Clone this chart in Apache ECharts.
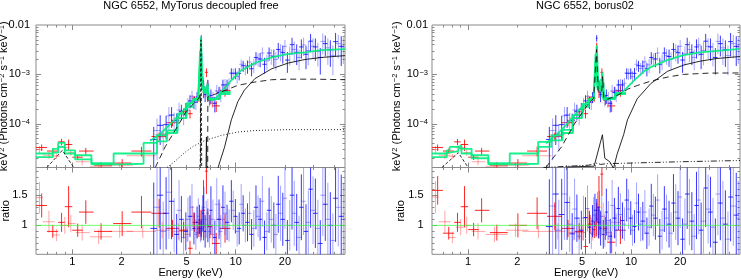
<!DOCTYPE html>
<html><head><meta charset="utf-8">
<script src="https://cdn.jsdelivr.net/npm/echarts@6/dist/echarts.min.js"></script>
<style>html,body{margin:0;padding:0;background:#fff}#c{width:741px;height:280px}</style>
</head><body><div id="c"></div>
<script>
// ================= DATA =================
const titles = ['NGC 6552, MyTorus decoupled free', 'NGC 6552, borus02'];
const E_MIN = 0.6, E_MAX = 46.6;
const F_MIN = 1.3e-5, F_MAX = 0.01;
const R_MIN = 0.52, R_MAX = 1.96;
const xTickLabels = [1, 2, 5, 10, 20];
const xMajorTicks = [1, 10];
const xMinorTicks = [0.7, 0.8, 0.9, 2, 3, 4, 5, 6, 7, 8, 9, 20, 30, 40];
const yTopLabelValues = [1e-4, 1e-3, 1e-2];
const yTopLabelText = ['10{s|−4}', '10{s|−3}', '0.01'];
const yTopMajorTicks = [1e-4, 1e-3];
const yTopMinorTicks = [2e-5,3e-5,4e-5,5e-5,6e-5,7e-5,8e-5,9e-5,2e-4,3e-4,4e-4,5e-4,6e-4,7e-4,8e-4,9e-4,2e-3,3e-3,4e-3,5e-3,6e-3,7e-3,8e-3,9e-3];
const ratioLabelValues = [1, 1.5];
const ratioMajorTicks = [1, 1.5];
const ratioMinorTicks = [0.6,0.7,0.8,0.9,1.1,1.2,1.3,1.4,1.6,1.7,1.8,1.9];

// soft-band data set A (dark red)
const redA_E    = [0.65,0.76,0.86,0.95,1.08,1.21,1.50,2.02,2.65,3.40,4.10,4.80,5.25,5.60,5.95,6.15,6.35,6.62,6.95,7.60,8.60];
const redA_lo   = [0.60,0.70,0.82,0.90,1.00,1.10,1.36,1.78,2.30,3.05,3.75,4.50,5.10,5.45,5.80,6.08,6.22,6.48,6.75,7.15,8.00];
const redA_hi   = [0.70,0.82,0.90,1.00,1.16,1.35,1.75,2.30,3.05,3.75,4.50,5.10,5.45,5.80,6.05,6.22,6.48,6.75,7.15,8.00,9.30];
const redA_flux = [3.3e-5,2.8e-5,4.3e-5,3.8e-5,2.1e-5,2.8e-5,1.45e-5,1.6e-5,2.8e-5,5.5e-5,1.05e-4,1.75e-4,1.6e-4,3.15e-4,3.3e-4,3.5e-3,5.5e-4,1.1e-3,3.0e-4,2.3e-4,4.7e-4];
const redA_err  = [0.15,0.12,0.15,0.26,0.12,0.16,0.15,0.2,0.22,0.2,0.15,0.15,0.2,0.15,0.15,0.25,0.4,0.2,0.2,0.25,0.25];
const redA_ratioMyT = [1.33,0.90,1.05,1.31,0.92,1.22,0.90,1.03,1.22,1.20,0.95,0.92,0.62,1.05,0.95,1.00,1.25,1.90,0.98,0.70,0.95];
const redA_ratioBor = [1.58,0.87,1.05,1.31,0.93,1.25,0.88,1.00,1.20,1.15,0.95,0.90,0.65,1.02,0.93,1.10,1.30,1.85,0.95,0.72,0.92];
// soft-band data set B (light red)
const redB_E    = [0.63,0.72,0.80,0.90,0.98,1.15,1.45,1.95,2.70,3.55,4.45,5.05,5.45,5.82,6.10,6.40,6.75,7.20,8.00];
const redB_lo   = [0.60,0.66,0.76,0.84,0.94,1.05,1.28,1.70,2.15,3.20,4.15,4.85,5.30,5.65,6.00,6.22,6.58,6.92,7.50];
const redB_hi   = [0.66,0.78,0.84,0.96,1.05,1.28,1.75,2.35,3.25,3.95,4.80,5.25,5.62,5.98,6.20,6.58,6.92,7.50,8.60];
const redB_flux = [3.0e-5,2.3e-5,2.2e-5,3.3e-5,2.6e-5,1.7e-5,1.35e-5,1.45e-5,2.25e-5,6.0e-5,1.3e-4,1.9e-4,3.3e-4,2.95e-4,2.1e-3,4.3e-4,6.6e-4,2.6e-4,4.5e-4];
const redB_err  = [0.18,0.17,0.12,0.14,0.14,0.15,0.15,0.12,0.12,0.15,0.15,0.15,0.15,0.12,0.2,0.2,0.2,0.2,0.25];
const redB_ratioMyT = [1.46,1.06,0.84,1.00,1.03,0.88,0.81,0.90,0.90,0.92,0.90,0.85,1.15,0.88,1.05,1.00,1.20,0.85,1.10];
const redB_ratioBor = [1.47,1.06,0.80,0.97,1.00,0.90,0.85,0.92,0.90,0.90,0.88,0.88,1.12,0.85,1.00,1.05,1.15,0.88,1.05];

// hard-band data set A (dark blue)
const blueA_E  = [3.15,3.45,3.75,4.05,4.35,4.65,4.95,5.25,5.55,5.8,6.0,6.15,6.3,6.5,6.75,7.05,7.45,7.9,8.35,8.85,9.4,9.95,10.5,11.1,11.8,12.5,13.3,14.1,15.0,16.0,17.1,18.2,19.4,20.7,22.1,23.6,25.2,26.9,28.7,30.7,32.9,35.3,37.9,40.8,44.2];
const blueA_hw = [0.15,0.15,0.15,0.15,0.15,0.15,0.15,0.15,0.13,0.1,0.08,0.07,0.08,0.1,0.12,0.15,0.2,0.22,0.22,0.25,0.27,0.27,0.3,0.3,0.35,0.35,0.4,0.4,0.45,0.5,0.55,0.55,0.6,0.65,0.7,0.75,0.8,0.85,0.9,1.0,1.1,1.2,1.3,1.4,1.6];
const blueA_flux = [4.8e-5,9.3e-5,9.6e-5,1.5e-4,1.15e-4,1.8e-4,1.95e-4,2.9e-4,2.75e-4,3.5e-4,8.8e-4,5.4e-3,7.2e-4,3.9e-4,6.0e-4,3.75e-4,2.6e-4,4.3e-4,6.1e-4,6.1e-4,1.06e-3,1.06e-3,1.05e-3,1.5e-3,1.47e-3,1.3e-3,2.2e-3,2.05e-3,1.6e-3,2.7e-3,2.3e-3,3.2e-3,2.75e-3,1.95e-3,4.0e-3,2.8e-3,3.6e-3,2.55e-3,4.7e-3,3.6e-3,2.2e-3,4.2e-3,3.15e-3,4.6e-3,3.7e-3];
const blueA_err = [0.8,0.6,0.5,0.45,0.4,0.35,0.35,0.3,0.28,0.25,0.22,0.15,0.25,0.3,0.28,0.32,0.35,0.3,0.28,0.28,0.25,0.25,0.28,0.25,0.3,0.3,0.28,0.32,0.35,0.3,0.38,0.35,0.4,0.45,0.38,0.45,0.42,0.5,0.4,0.48,0.55,0.45,0.55,0.5,0.6];
const blueA_ratioMyT = [0.95,1.5,1.2,1.4,0.85,1.1,0.9,1.15,0.95,1.05,1.1,0.95,1.2,0.9,1.0,1.25,0.8,1.1,1.3,1.05,1.4,1.15,0.95,1.2,1.05,0.85,1.3,1.1,0.8,1.25,1.0,1.35,1.1,0.75,1.5,1.05,1.3,0.9,1.6,1.2,0.7,1.35,1.0,1.45,1.15];
const blueA_ratioBor = [0.98,1.52,1.18,1.38,0.86,1.12,0.92,1.13,0.97,1.07,1.25,1.25,1.05,0.95,0.85,1.22,0.82,1.12,1.28,1.08,1.42,1.12,0.98,1.22,1.07,0.87,1.32,1.12,0.82,1.27,1.02,1.37,1.12,0.77,1.52,1.07,1.33,0.92,1.62,1.22,0.72,1.37,1.02,1.47,1.17];
// hard-band data set B (light blue)
const blueB_E  = [3.3,3.6,3.9,4.2,4.5,4.8,5.1,5.4,5.7,5.9,6.08,6.22,6.4,6.6,6.9,7.25,7.65,8.1,8.6,9.1,9.65,10.2,10.8,11.45,12.15,12.9,13.7,14.55,15.5,16.5,17.6,18.8,20.0,21.4,22.8,24.4,26.0,27.8,29.7,31.8,34.1,36.6,39.3,42.4,45.5];
const blueB_hw = [0.15,0.15,0.15,0.15,0.15,0.15,0.15,0.15,0.12,0.1,0.07,0.07,0.1,0.1,0.15,0.18,0.2,0.22,0.25,0.25,0.28,0.28,0.3,0.32,0.35,0.38,0.4,0.42,0.45,0.5,0.55,0.6,0.6,0.7,0.7,0.8,0.8,0.9,0.95,1.05,1.15,1.25,1.35,1.5,1.6];
const blueB_flux = [7.3e-5,6.2e-5,1.45e-4,1.15e-4,1.9e-4,1.5e-4,2.5e-4,3.6e-4,2.7e-4,4.0e-4,2.25e-3,2.2e-3,5.6e-4,4.8e-4,3.15e-4,3.4e-4,4.65e-4,3.9e-4,6.2e-4,6.6e-4,1.04e-3,9.0e-4,1.6e-3,1.32e-3,1.78e-3,1.56e-3,2.05e-3,2.7e-3,1.87e-3,2.4e-3,2.0e-3,2.95e-3,3.7e-3,2.6e-3,3.2e-3,2.2e-3,3.95e-3,3.05e-3,3.7e-3,2.9e-3,4.65e-3,3.45e-3,2.4e-3,4.2e-3,3.6e-3];
const blueB_err = [0.75,0.55,0.5,0.45,0.4,0.38,0.33,0.3,0.3,0.26,0.2,0.2,0.26,0.28,0.3,0.3,0.32,0.3,0.3,0.27,0.26,0.28,0.25,0.28,0.3,0.32,0.3,0.3,0.35,0.35,0.4,0.38,0.35,0.42,0.45,0.45,0.4,0.5,0.45,0.5,0.45,0.55,0.6,0.5,0.55];
const blueB_ratioMyT = [1.3,0.9,1.55,1.0,1.25,0.8,1.1,1.3,0.85,1.15,0.9,1.1,1.3,1.1,0.9,1.1,1.35,0.9,1.2,1.0,1.25,0.9,1.35,1.0,1.2,0.95,1.15,1.4,0.9,1.1,0.85,1.2,1.45,1.0,1.2,0.8,1.4,1.05,1.25,0.95,1.5,1.1,0.75,1.3,1.1];
const blueB_ratioBor = [1.32,0.92,1.52,1.02,1.27,0.82,1.12,1.28,0.87,1.17,1.0,1.3,1.25,1.15,0.92,1.08,1.33,0.92,1.18,1.02,1.27,0.92,1.37,1.02,1.22,0.97,1.17,1.42,0.92,1.12,0.87,1.22,1.47,1.02,1.22,0.82,1.42,1.07,1.27,0.97,1.52,1.12,0.77,1.32,1.12];

// model curves: MyTorus panel
const greenStepA_MyT = [[0.6,2.5e-5],[0.76,3.1e-5],[0.82,4.1e-5],[0.9,2.9e-5],[1.04,2.3e-5],[1.31,1.6e-5],[1.79,2.5e-5],[2.73,4.1e-5],[3.3,5.8e-5],[3.8,7.3e-5],[4.4,1.6e-4],[5.0,2.6e-4],[5.5,3.2e-4],[5.9,3.6e-4],[6.05,3.0e-3],[6.22,5.5e-4],[6.5,4.5e-4],[6.75,3.2e-4],[7.2,3.3e-4],[8.0,4.4e-4],[9.3,4.4e-4]];
const greenStepB_MyT = [[0.6,2.1e-5],[0.76,2.6e-5],[0.82,3.4e-5],[0.9,2.5e-5],[1.04,1.9e-5],[1.31,1.5e-5],[2.0,1.55e-5],[2.73,2.5e-5],[3.3,4.4e-5],[3.8,6.5e-5],[4.4,1.3e-4],[5.0,2.2e-4],[5.5,3.0e-4],[5.9,3.4e-4],[6.05,2.0e-3],[6.22,5.0e-4],[6.5,4.2e-4],[6.75,3.1e-4],[7.2,3.2e-4],[8.0,4.0e-4],[9.3,4.0e-4]];
const greenHard_MyT = [[3.0,4.5e-5],[3.5,6.5e-5],[4.0,1.0e-4],[4.5,1.5e-4],[5.0,2.2e-4],[5.5,2.9e-4],[5.9,3.5e-4],[6.02,8e-4],[6.13,5.7e-3],[6.24,1.0e-3],[6.35,4.2e-4],[6.6,4.6e-4],[6.72,6.5e-4],[6.85,3.5e-4],[7.1,3.0e-4],[7.5,3.2e-4],[8.15,4.4e-4],[9.4,7.6e-4],[10.8,1.2e-3],[13.1,1.7e-3],[16.6,2.2e-3],[21,2.6e-3],[26.5,2.8e-3],[33.5,3.1e-3],[46.6,3.25e-3]];
const soft_MyT = [[0.7,1.3e-5],[0.87,2.9e-5],[1.02,1.3e-5]];
const scatLow_MyT = [[3.22,1.3e-5],[3.7,3.4e-5],[4.38,8.6e-5],[5.0,1.8e-4],[5.55,2.6e-4],[5.95,3.3e-4],[6.08,4.0e-4],[6.1,1e-7]];
const scatHigh_MyT = [[6.72,1e-7],[6.75,3.5e-4],[7.2,3.8e-4],[8.15,4.4e-4],[10.3,6.0e-4],[13.1,7.0e-4],[16.6,7.8e-4],[21,8.0e-4],[30,8.0e-4],[46.6,7.8e-4]];
const feLine_MyT = [[6.02,1e-7],[6.13,5.0e-3],[6.24,1e-7]];
const trans_MyT = [[6.45,1e-7],[6.62,5.4e-5],[6.78,1e-7],[7.6,1e-7],[7.8,1.3e-5],[8.0,1.7e-5],[8.55,3.4e-5],[9.4,1.2e-4],[10.3,2.8e-4],[11.3,4.8e-4],[13.1,8.2e-4],[16.6,1.3e-3],[21,1.7e-3],[26.5,2.0e-3],[33.5,2.2e-3],[46.6,2.4e-3]];
const scatPL_MyT = [[3.8,1.3e-5],[4.3,1.8e-5],[5.0,2.8e-5],[5.5,3.5e-5],[6.5,4.6e-5],[8.15,5.8e-5],[10.3,6.8e-5],[13.1,7.3e-5],[21,7.6e-5],[46.6,7.6e-5]];

// model curves: borus02 panel
const greenStepA_Bor = [[0.6,2.5e-5],[0.74,2.9e-5],[0.77,3.4e-5],[0.87,3.6e-5],[0.91,3.1e-5],[1.05,2.3e-5],[1.33,1.6e-5],[1.8,2.5e-5],[2.69,4.3e-5],[3.24,5.8e-5],[3.8,7.5e-5],[4.4,1.5e-4],[5.0,2.5e-4],[5.5,3.2e-4],[5.9,3.6e-4],[6.05,2.6e-3],[6.22,5.5e-4],[6.55,8e-4],[6.75,3.3e-4],[7.2,3.3e-4],[8.0,4.2e-4],[9.3,4.2e-4]];
const greenStepB_Bor = [[0.6,2.1e-5],[0.74,2.6e-5],[0.77,2.8e-5],[0.87,3.2e-5],[0.91,2.5e-5],[1.05,2.0e-5],[1.33,1.5e-5],[2.0,1.55e-5],[2.69,3.4e-5],[3.24,4.6e-5],[3.8,6.5e-5],[4.4,1.3e-4],[5.0,2.2e-4],[5.5,3.0e-4],[5.9,3.4e-4],[6.05,1.8e-3],[6.22,5.0e-4],[6.55,6.5e-4],[6.75,3.1e-4],[7.2,3.2e-4],[8.0,4.0e-4],[9.3,4.0e-4]];
const greenHard_Bor = [[3.0,4.0e-5],[3.5,6.0e-5],[4.0,9.5e-5],[4.5,1.5e-4],[5.0,2.2e-4],[5.5,2.9e-4],[5.9,3.5e-4],[6.03,1.0e-3],[6.16,3.9e-3],[6.3,6.0e-4],[6.5,4.5e-4],[6.67,1.1e-3],[6.85,3.3e-4],[7.2,3.2e-4],[7.85,3.4e-4],[9.0,4.6e-4],[10.4,7.5e-4],[12.0,1.15e-3],[13.2,1.4e-3],[16.7,1.95e-3],[21.0,2.45e-3],[26.5,2.8e-3],[33.7,3.0e-3],[46.6,3.3e-3]];
const soft_Bor = [[0.69,1.3e-5],[0.87,2.6e-5],[1.0,1.3e-5]];
const refl_Bor = [[3.0,1.3e-5],[3.74,3.4e-5],[4.5,1.0e-4],[5.4,2.4e-4],[5.9,3.3e-4],[6.0,3.6e-4],[6.14,3.2e-3],[6.28,4.5e-4],[6.6,4.3e-4],[6.68,9e-4],[6.8,3.3e-4],[7.1,3.1e-4],[8.0,3.6e-4],[9.0,4.4e-4],[9.5,5.0e-4],[11,6.0e-4],[13.2,7.3e-4],[16.7,8.8e-4],[21,1.0e-3],[30,1.06e-3],[46.6,1.07e-3]];
const trans_Bor = [[4.0,1.33e-5],[5.93,1.38e-5],[6.67,6.0e-5],[6.9,2.0e-5],[7.4,1.7e-5],[7.8,1.25e-5],[8.2,2.4e-5],[9.0,6.0e-5],[9.5,1.2e-4],[10.9,3.2e-4],[13.2,6.5e-4],[16.7,1.15e-3],[21.1,1.55e-3],[26.5,1.85e-3],[33.7,2.1e-3],[46.6,2.3e-3]];
const scatPL_Bor = [[2.9,1.3e-5],[3.6,1.35e-5],[4.5,1.4e-5],[5.5,1.45e-5],[6.2,1.6e-5],[6.5,1.5e-5],[7.0,1.55e-5],[10,1.6e-5],[20,1.7e-5],[46.6,1.8e-5]];
const unityLine = [[E_MIN,1],[E_MAX,1]];

// ================= CHART =================
const FONT = 'Liberation Sans, Arial, Helvetica, sans-serif';
const GRAY = '#8a8a8a';
const supRich = {s: {fontSize: 7.5, verticalAlign: 'top', fontFamily: FONT, color: '#000', padding: [0,0,0,0.5]}};
const grids = [
  {left: 36, top: 25, width: 309, height: 142.5},
  {left: 36, top: 167.5, width: 309, height: 86.8},
  {left: 432, top: 25, width: 308, height: 142.5},
  {left: 432, top: 167.5, width: 308, height: 86.8}
];
const yNameGap = [26.7, 24.5, 30, 25.5];
const yLabMargin = [6, 8.5, 4, 8.5];

const xAxes = [], yAxes = [];
grids.forEach((g, gi) => {
  const ratio = gi % 2 === 1;
  ['bottom', 'top'].forEach(pos => [true, false].forEach(major => {
    const lab = ratio && pos === 'bottom' && major;
    xAxes.push({
      gridIndex: gi, type: 'log', logBase: 10, min: E_MIN, max: E_MAX, position: pos,
      axisLine: {show: false}, splitLine: {show: false},
      axisTick: {show: true, inside: true, length: major ? 5 : 2.5,
        customValues: major ? xMajorTicks : xMinorTicks, lineStyle: {color: GRAY, width: 1}},
      axisLabel: {show: lab, customValues: xTickLabels, margin: 2, color: '#000',
        fontSize: 11, fontFamily: FONT, formatter: v => String(v)},
      name: lab ? 'Energy (keV)' : '', nameLocation: 'middle', nameGap: 13.5, nameMoveOverlap: false,
      nameTextStyle: {color: '#000', fontSize: 11, fontFamily: FONT}
    });
  }));
  ['left', 'right'].forEach(pos => [true, false].forEach(major => {
    const lab = pos === 'left' && major;
    const base = {
      gridIndex: gi, position: pos, axisLine: {show: false}, splitLine: {show: false},
      nameLocation: 'middle', nameGap: yNameGap[gi], nameMoveOverlap: false,
      nameTextStyle: {color: '#000', fontSize: 11, fontFamily: FONT, rich: supRich}
    };
    if (ratio) {
      yAxes.push(Object.assign(base, {
        type: 'value', min: R_MIN, max: R_MAX,
        axisTick: {show: true, inside: true, length: major ? 5 : 2.5,
          customValues: major ? ratioMajorTicks : ratioMinorTicks, lineStyle: {color: GRAY}},
        axisLabel: {show: lab, customValues: ratioLabelValues, margin: yLabMargin[gi], color: '#000',
          fontSize: 11, fontFamily: FONT, formatter: v => String(v)},
        name: lab ? 'ratio' : ''
      }));
    } else {
      yAxes.push(Object.assign(base, {
        type: 'log', logBase: 10, min: F_MIN, max: F_MAX,
        axisTick: {show: true, inside: true, length: major ? 5 : 2.5,
          customValues: major ? yTopMajorTicks : yTopMinorTicks, lineStyle: {color: GRAY}},
        axisLabel: {show: lab, customValues: yTopLabelValues, margin: yLabMargin[gi], color: '#000',
          fontSize: 11, fontFamily: FONT, rich: supRich,
          formatter: v => {
            let best = 0, d = 1e9;
            yTopLabelValues.forEach((t, i) => { const dd = Math.abs(Math.log10(t) - Math.log10(v)); if (dd < d) { d = dd; best = i; } });
            return yTopLabelText[best];
          }},
        name: lab ? 'keV{s|2} (Photons cm{s|−2} s{s|−1} keV{s|−1})' : ''
      }));
    }
  }));
});

function crosses(E, lo, hi, val, err) {
  return E.map((e, i) => [e, lo[i], hi[i], val[i], val[i] * (1 - err[i]), val[i] * (1 + err[i])]);
}
function crossSeries(gi, data, color, z) {
  return {
    type: 'custom', xAxisIndex: gi * 4, yAxisIndex: gi * 4, clip: true, silent: true, z: z,
    encode: {x: [0, 1, 2], y: [3, 4, 5]}, data: data, animation: false,
    renderItem: (params, api) => {
      const a = api.coord([api.value(1), api.value(3)]);
      const b = api.coord([api.value(2), api.value(3)]);
      const c = api.coord([api.value(0), api.value(4)]);
      const d = api.coord([api.value(0), api.value(5)]);
      const st = {stroke: color, lineWidth: 1};
      return {type: 'group', children: [
        {type: 'line', shape: {x1: a[0], y1: a[1], x2: b[0], y2: b[1]}, style: st},
        {type: 'line', shape: {x1: c[0], y1: c[1], x2: d[0], y2: d[1]}, style: st}
      ]};
    }
  };
}
function lineSeries(gi, data, color, width, type, step, z) {
  return {
    type: 'line', xAxisIndex: gi * 4, yAxisIndex: gi * 4, data: data, symbol: 'none', showSymbol: false,
    step: step || false, clip: true, silent: true, animation: false, z: z,
    lineStyle: {color: color, width: width, type: type || 'solid'}
  };
}
const lo = (E, hw) => E.map((e, i) => e - hw[i]);
const hi = (E, hw) => E.map((e, i) => e + hw[i]);

const RED_A = 'rgba(255,0,0,0.85)', RED_B = 'rgba(255,40,40,0.42)';
const BLUE_A = 'rgba(0,0,255,0.78)', BLUE_B = 'rgba(40,40,255,0.42)';
const GREEN = 'rgba(0,238,128,0.9)';
const BLACK = '#111';

const series = [];
const panels = [
  {ratios: [redA_ratioMyT, redB_ratioMyT, blueA_ratioMyT, blueB_ratioMyT],
   greens: [greenStepA_MyT, greenStepB_MyT], hard: greenHard_MyT,
   comps: [[soft_MyT, [3, 2]], [scatLow_MyT, [6, 4]], [scatHigh_MyT, [6, 4]], [feLine_MyT, [3, 2]], [trans_MyT, 'solid'], [scatPL_MyT, [1, 2]]]},
  {ratios: [redA_ratioBor, redB_ratioBor, blueA_ratioBor, blueB_ratioBor],
   greens: [greenStepA_Bor, greenStepB_Bor], hard: greenHard_Bor,
   comps: [[soft_Bor, [3, 2]], [refl_Bor, [6, 4]], [trans_Bor, 'solid'], [scatPL_Bor, [6, 2, 1, 2, 1, 2]]]}
];
panels.forEach((p, pi) => {
  const gTop = pi * 2, gRat = pi * 2 + 1;
  series.push(crossSeries(gTop, crosses(redB_E, redB_lo, redB_hi, redB_flux, redB_err), RED_B, 2));
  series.push(crossSeries(gTop, crosses(redA_E, redA_lo, redA_hi, redA_flux, redA_err), RED_A, 2));
  series.push(crossSeries(gTop, crosses(blueB_E, lo(blueB_E, blueB_hw), hi(blueB_E, blueB_hw), blueB_flux, blueB_err), BLUE_B, 2));
  series.push(crossSeries(gTop, crosses(blueA_E, lo(blueA_E, blueA_hw), hi(blueA_E, blueA_hw), blueA_flux, blueA_err), BLUE_A, 2));
  p.greens.forEach(gd => series.push(lineSeries(gTop, gd, GREEN, 1.8, 'solid', 'end', 3)));
  series.push(lineSeries(gTop, p.hard, GREEN, 1.8, 'solid', false, 3));
  p.comps.forEach(c => series.push(lineSeries(gTop, c[0], BLACK, 0.9, c[1], false, 4)));
  series.push(crossSeries(gRat, crosses(redB_E, redB_lo, redB_hi, p.ratios[1], redB_err), RED_B, 2));
  series.push(crossSeries(gRat, crosses(redA_E, redA_lo, redA_hi, p.ratios[0], redA_err), RED_A, 2));
  series.push(crossSeries(gRat, crosses(blueB_E, lo(blueB_E, blueB_hw), hi(blueB_E, blueB_hw), p.ratios[3], blueB_err), BLUE_B, 2));
  series.push(crossSeries(gRat, crosses(blueA_E, lo(blueA_E, blueA_hw), hi(blueA_E, blueA_hw), p.ratios[2], blueA_err), BLUE_A, 2));
  series.push(lineSeries(gRat, unityLine, 'rgba(60,255,60,0.75)', 1, 'solid', false, 3));
});

const chart = echarts.init(document.getElementById('c'), null, {renderer: 'canvas'});
chart.setOption({
  animation: false,
  backgroundColor: '#fff',
  title: [
    {text: titles[0], left: 191, top: 0, padding: 0, textAlign: 'center',
     textStyle: {fontSize: 11, fontWeight: 'normal', color: '#000', fontFamily: FONT}},
    {text: titles[1], left: 585, top: 0, padding: 0, textAlign: 'center',
     textStyle: {fontSize: 11, fontWeight: 'normal', color: '#000', fontFamily: FONT}}
  ],
  grid: grids.map(g => Object.assign({show: true, borderColor: GRAY, borderWidth: 1, backgroundColor: 'transparent',
    containLabel: false, outerBoundsMode: 'none'}, g)),
  xAxis: xAxes,
  yAxis: yAxes,
  series: series
});
</script></body></html>
